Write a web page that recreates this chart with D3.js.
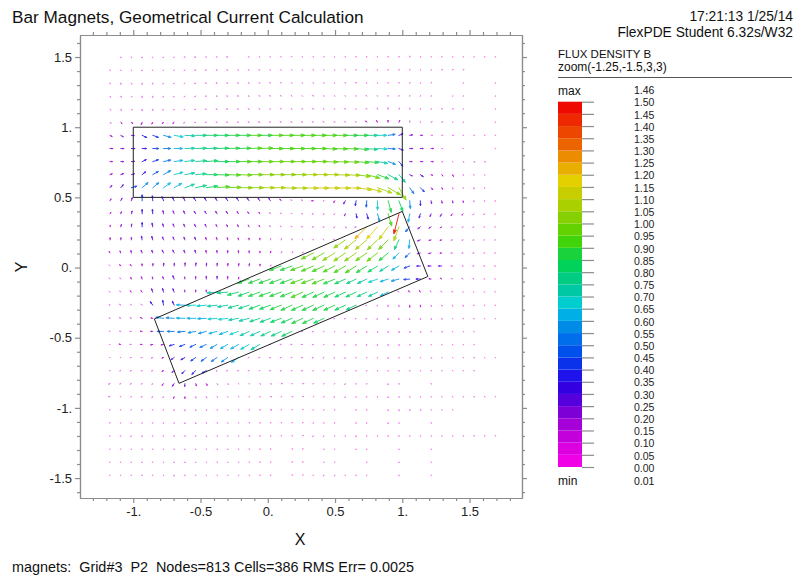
<!DOCTYPE html>
<html>
<head>
<meta charset="utf-8">
<script src="https://cdn.jsdelivr.net/npm/d3@7"></script>
<style>
body { margin: 0; background: #fff; overflow: hidden; }
svg { display: block; font-family: "Liberation Sans", Arial, sans-serif; }
</style>
</head>
<body>
<div id="chart"></div>
<script>
// x and y of the arrow grid, in plot units
var gridX = [-1.173,-1.093,-1.014,-.934,-.855,-.775,-.696,-.616,-.536,-.457,-.377,-.298,-.218,-.139,-.059,.02,.1,.18,.259,.339,.418,.498,.577,.657,.736,.816,.895,.975,1.055,1.134,1.214,1.293,1.373,1.452,1.532,1.611,1.691];
var gridY = [1.5,1.407,1.314,1.221,1.128,1.035,.942,.848,.755,.662,.569,.476,.383,.29,.197,.104,.011,-.082,-.175,-.268,-.362,-.455,-.548,-.641,-.734,-.827,-.92,-1.013,-1.106,-1.199,-1.293,-1.386,-1.479];

// |B|, in hundredths. One row per gridY, 0 = no arrow drawn
var fluxMag = [
[0,6,6,7,6,6,6,6,7,4,4,7,0,4,4,4,4,7,4,4,4,4,4,4,4,4,4,4,7,4,4,4,4,4,4,4,4],
[4,4,4,6,4,4,4,6,6,6,6,6,4,4,6,4,4,4,4,4,4,4,4,4,4,4,4,4,4,4,4,7,7,7,0,0,0],
[5,8,8,8,7,7,6,6,7,6,7,6,6,6,6,7,7,4,4,4,4,4,4,7,4,4,4,4,4,4,7,0,0,4,0,0,4],
[8,8,7,9,8,7,7,7,7,5,5,6,7,6,6,7,7,7,4,7,4,4,4,4,7,4,4,4,4,4,4,0,4,4,0,0,4],
[8,9,8,10,8,8,7,7,7,7,7,7,6,7,6,5,8,6,7,8,7,4,7,4,8,9,10,9,8,4,4,7,7,4,0,0,4],
[10,12,13,17,13,12,12,10,8,8,7,7,7,7,9,7,9,8,8,8,8,7,7,7,12,14,14,14,10,4,8,7,4,4,0,0,4],
[17,20,20,35,42,55,65,72,78,80,82,85,88,90,88,90,90,92,92,92,92,90,88,85,78,65,50,30,20,15,10,8,7,4,4,4,4],
[20,22,25,30,42,50,60,70,76,78,82,85,88,90,92,92,93,94,94,94,92,90,90,88,78,68,50,32,22,20,18,7,0,4,0,0,4],
[17,20,22,32,42,52,62,70,78,82,84,88,92,93,95,96,98,98,98,98,98,96,95,92,85,72,55,42,17,18,15,7,4,7,8,7,0],
[17,20,22,32,45,58,65,70,75,80,85,90,95,98,102,103,103,104,105,105,105,105,105,102,95,85,78,70,20,25,12,12,14,7,4,4,0],
[20,27,40,55,55,60,62,72,78,82,90,95,100,102,105,105,108,108,110,110,110,110,110,112,110,108,102,100,50,40,18,12,10,4,8,4,0],
[15,20,22,42,35,30,28,28,27,27,26,25,25,25,22,20,15,10,10,12,5,14,25,35,45,65,85,80,55,35,20,17,15,12,8,4,4],
[12,15,20,30,30,22,22,22,20,20,20,20,18,16,12,10,7,6,6,7,6,8,15,30,38,55,90,146,60,30,20,20,15,12,10,8,4],
[12,17,20,30,27,22,22,20,20,20,17,15,15,13,12,10,8,7,8,8,7,10,10,10,120,115,110,105,45,22,17,12,10,8,8,4,4],
[15,15,18,27,25,22,22,20,20,18,17,15,13,12,12,10,10,7,5,6,7,8,100,105,105,100,95,75,60,20,15,12,10,8,7,4,4],
[12,15,17,20,20,22,22,20,20,18,17,17,17,15,12,12,10,10,7,95,98,100,100,100,95,95,85,60,45,20,17,12,10,8,7,4,4],
[10,12,13,15,17,20,20,22,22,20,20,18,17,17,13,8,88,88,90,92,93,93,93,90,88,80,70,60,42,25,22,22,10,7,7,4,4],
[10,10,12,17,15,17,25,15,18,20,20,18,12,85,85,87,88,88,90,90,90,87,82,75,72,68,60,55,42,30,15,12,10,10,7,4,4],
[7,10,12,13,25,27,25,15,15,15,70,75,80,82,85,85,87,88,90,88,87,85,82,80,75,70,60,10,12,12,10,8,7,4,4,4,4],
[7,10,10,10,30,35,30,60,65,67,70,72,75,78,80,82,85,85,87,88,87,85,82,78,7,7,10,10,14,12,10,7,7,7,4,4,4],
[7,10,10,13,13,55,58,60,62,62,65,67,70,73,75,78,80,82,85,85,80,7,7,7,8,8,10,8,10,10,10,7,4,4,4,4,4],
[4,8,10,13,15,45,50,52,55,58,60,63,65,70,73,75,77,80,7,7,4,4,7,7,7,7,7,8,8,7,4,7,4,4,4,0,0],
[4,12,10,13,15,17,35,40,45,50,55,60,63,68,72,8,8,8,10,7,4,8,7,7,7,7,7,7,4,4,4,4,4,4,4,0,0],
[4,4,8,8,10,12,27,32,42,45,50,55,60,7,7,7,8,7,7,7,7,7,7,4,4,4,7,4,4,4,7,4,4,4,4,4,4],
[4,7,8,7,8,12,20,30,38,35,7,7,7,7,4,7,7,4,8,4,4,7,4,4,4,4,4,4,4,4,4,4,4,4,4,0,0],
[10,7,8,7,8,15,22,20,17,14,10,8,4,4,7,7,8,4,9,4,4,4,8,4,4,0,8,4,0,0,4,0,0,0,0,0,0],
[10,4,4,7,8,8,12,12,10,10,7,4,4,4,4,8,4,7,7,4,4,7,7,4,4,4,7,4,4,4,4,4,4,4,4,4,4],
[4,4,4,8,4,4,7,7,7,7,4,4,4,4,4,8,4,4,4,4,4,4,0,4,4,0,7,7,7,7,4,4,4,0,0,0,0],
[4,4,4,4,4,4,4,7,7,4,4,4,4,4,4,4,4,4,4,4,4,4,0,4,4,0,7,4,0,0,4,0,0,0,0,0,0],
[4,4,7,7,4,4,4,4,4,7,4,4,4,7,4,4,4,4,7,7,7,4,4,7,4,4,4,4,4,4,4,4,4,4,4,4,4],
[4,4,4,4,4,4,4,4,4,4,4,4,4,4,4,4,0,4,4,0,4,4,0,4,4,0,0,4,0,0,4,0,0,0,0,0,0],
[4,4,4,4,4,4,4,4,4,4,4,4,4,4,4,4,0,4,4,0,4,4,0,0,4,0,0,4,0,0,4,0,0,0,0,0,0],
[4,4,4,4,4,4,7,4,4,4,4,4,4,4,4,4,0,4,4,4,7,7,4,4,4,0,0,4,0,0,4,0,0,0,0,0,0]
];

// direction of B in degrees, counter-clockwise from +x, same layout as fluxMag
var fluxAngle = [
[0,300,280,250,240,230,220,200,190,180,170,170,0,160,150,145,140,135,130,125,120,120,115,110,100,100,90,80,70,60,60,50,45,40,40,35,30],
[300,300,290,250,240,230,220,210,190,180,170,170,160,160,150,145,140,135,130,125,120,115,110,110,105,100,90,80,75,65,60,50,45,40,0,0,0],
[280,280,300,270,265,235,225,215,200,180,170,165,160,155,150,145,140,135,130,125,120,115,110,110,105,100,90,80,75,65,60,0,0,40,0,0,35],
[300,300,310,270,270,240,225,215,200,180,170,165,160,155,150,145,140,130,130,125,120,115,115,120,125,115,90,70,80,65,55,0,45,45,0,0,30],
[310,300,320,270,270,235,225,210,195,180,175,165,160,155,150,145,135,130,130,130,125,120,125,130,135,100,95,65,85,70,60,60,45,40,0,0,35],
[315,315,320,250,240,225,220,215,190,180,175,170,165,160,160,155,150,150,150,145,140,135,130,130,130,120,95,65,85,70,30,30,30,30,0,0,35],
[330,330,355,335,340,345,350,357,0,0,0,0,0,0,0,0,0,0,0,0,0,0,0,0,0,0,8,20,10,0,0,0,0,0,0,0,0],
[0,0,0,0,0,0,0,2,2,2,2,2,2,2,2,0,0,0,0,0,358,358,358,355,355,357,357,340,0,0,0,0,0,0,0,0,0],
[0,0,5,25,18,12,8,7,5,5,0,0,0,0,0,0,0,0,0,0,358,358,357,355,355,350,340,310,0,0,0,340,340,320,330,330,0],
[20,20,15,40,30,30,15,10,5,0,358,358,358,0,0,0,0,0,0,0,0,358,357,352,345,340,332,310,335,325,335,310,300,300,300,300,0],
[50,50,15,40,40,35,30,20,12,8,5,2,0,0,0,0,358,358,358,358,358,358,358,352,345,340,330,300,305,315,310,300,290,290,280,280,0],
[60,65,75,90,95,110,115,115,120,120,120,120,120,125,125,125,130,135,140,180,200,240,240,260,265,270,285,290,275,272,280,280,280,280,270,270,270],
[60,70,75,90,95,100,110,115,120,120,120,120,120,125,125,125,130,150,170,190,210,230,245,280,285,285,286,256,260,255,250,240,230,230,230,230,230],
[75,75,85,90,100,105,110,115,115,115,115,115,115,115,115,125,135,150,170,190,210,225,320,200,225,228,234,250,230,220,210,210,210,210,210,210,210],
[85,85,90,100,105,110,110,110,110,105,105,100,100,95,90,85,80,80,100,110,130,150,215,218,220,224,225,245,265,200,195,195,195,195,195,195,195],
[120,110,100,110,110,115,115,110,105,100,95,90,90,85,85,80,70,60,60,207,210,212,215,215,215,218,220,225,225,195,195,190,190,190,190,190,190],
[135,130,125,95,85,85,85,85,85,85,85,85,80,80,80,70,200,200,200,203,205,207,210,212,212,212,212,210,200,180,180,180,175,175,175,175,175],
[130,125,110,110,100,110,110,100,90,90,90,90,80,200,200,200,200,200,200,200,202,203,204,205,205,200,198,195,185,180,170,150,150,150,150,150,150],
[140,130,130,130,110,105,110,100,90,90,185,185,195,200,200,200,200,202,205,205,205,205,205,205,205,205,205,140,130,120,120,130,130,130,130,130,130],
[150,145,140,140,125,100,115,178,182,185,187,190,195,198,200,200,202,205,205,205,205,205,205,205,210,240,260,270,270,275,290,300,280,280,280,280,280],
[155,150,150,155,170,172,175,178,180,182,185,187,190,195,198,200,200,203,205,205,205,210,210,210,210,240,250,265,270,280,290,300,300,300,300,300,300],
[160,170,180,175,180,180,180,185,190,195,195,200,200,205,205,205,205,205,180,200,220,240,240,250,260,270,270,280,290,300,310,320,320,320,320,0,0],
[180,170,180,180,190,190,195,200,205,205,210,210,210,210,210,180,180,180,180,190,200,210,230,240,250,260,270,280,290,300,310,320,320,330,330,0,0],
[180,180,190,190,200,200,215,210,215,215,215,215,215,190,190,190,190,190,190,200,210,220,230,240,250,260,270,280,290,300,310,320,330,330,340,340,340],
[190,200,200,200,200,210,220,225,225,210,220,200,190,190,190,190,200,200,190,200,210,220,230,240,250,260,270,280,290,300,310,320,330,340,340,0,0],
[200,200,210,210,220,230,235,265,290,300,300,310,320,320,320,330,0,0,0,210,220,230,230,240,250,0,270,280,0,0,300,0,0,0,0,0,0],
[180,190,200,210,220,230,250,270,280,290,300,310,320,330,330,0,0,0,10,20,210,220,230,240,250,260,270,280,290,300,310,320,330,340,350,0,0],
[200,210,220,230,235,240,250,270,280,290,300,310,320,330,340,350,0,10,20,220,230,240,0,250,260,0,270,280,290,300,310,320,330,0,0,0,0],
[210,220,230,240,240,250,260,270,280,290,300,310,320,330,340,350,0,10,20,230,240,250,0,260,260,0,270,280,0,0,300,0,0,0,0,0,0],
[220,230,230,240,250,255,260,270,280,290,300,310,320,330,340,350,0,10,20,230,240,250,250,260,260,270,270,280,290,300,310,320,330,340,350,0,0],
[220,230,240,240,250,255,260,270,280,290,300,310,320,330,340,350,0,10,20,0,240,250,0,260,260,0,0,280,0,0,300,0,0,0,0,0,0],
[230,240,240,250,250,260,260,270,280,290,300,310,320,330,340,350,0,10,20,0,240,250,0,0,260,0,0,280,0,0,300,0,0,0,0,0,0],
[230,240,250,250,250,260,260,270,280,290,300,310,320,330,340,350,0,10,20,230,240,250,250,260,260,0,0,280,0,0,300,0,0,0,0,0,0]
];

// magnet outlines
var magnetTop = [[-1,1],[1,1],[1,.5],[-1,.5]];
var magnetTilted = [[1,.4],[1.19,-.064],[-.66,-.825],[-.843,-.366]];

// axis ticks
var xMajor = [-1,-.5,0,.5,1,1.5];
var xLabels = ["-1.","-0.5","0.","0.5","1.","1.5"];
var xMinor = [-1.3,-1.2,-1.1,-.9,-.8,-.7,-.6,-.4,-.3,-.2,-.1,.1,.2,.3,.4,.6,.7,.8,.9,1.1,1.2,1.3,1.4,1.6,1.7,1.8];
var yMajor = [1.5,1,.5,0,-.5,-1,-1.5];
var yLabels = ["1.5","1.","0.5","0.","-0.5","-1.","-1.5"];
var yMinor = [1.6,1.4,1.3,1.2,1.1,.9,.8,.7,.6,.4,.3,.2,.1,-.1,-.2,-.3,-.4,-.6,-.7,-.8,-.9,-1.1,-1.2,-1.3,-1.4,-1.6];

// legend, from 0.00 up to 1.50
var legendTicks = [0,.05,.1,.15,.2,.25,.3,.35,.4,.45,.5,.55,.6,.65,.7,.75,.8,.85,.9,.95,1,1.05,1.1,1.15,1.2,1.25,1.3,1.35,1.4,1.45,1.5];
var legendColors = ["#f000e6","#dc00e1","#c300dc","#a500d7","#7d00d7","#5500dc","#3200e1","#1e14eb","#0a32eb","#0050eb","#006eeb","#008ce6","#00afe6","#00cdcd","#00c8a5","#00cd82","#00d25a","#19d23c","#41d40a","#64d200","#87d000","#aad000","#c8cd00","#e4d000","#e8af00","#ec8c00","#ec6400","#ec4600","#ee2800","#ee0a00"];

var svgWidth = 795;
var svgHeight = 578;

var svg = d3.select("#chart")
    .append("svg")
    .attr("width", svgWidth)
    .attr("height", svgHeight);

// Scales
var xScale = d3.scaleLinear().domain([-1.396, 1.89]).range([80, 522]);
var yScale = d3.scaleLinear().domain([1.657, -1.642]).range([35, 498]);
// arrow length in pixels per unit of B
var arrowLength = d3.scaleLinear().domain([0, 1]).range([0, 14]);
var legendY = d3.scaleLinear().domain([0, 1.5]).range([467, 101.7]);
var colorScale = d3.scaleThreshold()
    .domain(legendTicks.slice(1, -1))
    .range(legendColors);

// Frame and ticks
function styleAxis(g) {
    g.selectAll("path, line").attr("stroke", "#8c8c8c").attr("stroke-width", 1.2);
    g.selectAll("text").attr("fill", "#222").attr("font-size", "13px");
}
function labelFrom(ticks, labels) {
    return function(d) { return labels[ticks.indexOf(d)]; };
}

var sides = [
    { axis: d3.axisBottom, scale: xScale, at: [0, 498], major: xMajor, minor: xMinor, labels: xLabels },
    { axis: d3.axisTop, scale: xScale, at: [0, 35], major: xMajor, minor: xMinor },
    { axis: d3.axisLeft, scale: yScale, at: [80, 0], major: yMajor, minor: yMinor, labels: yLabels },
    { axis: d3.axisRight, scale: yScale, at: [522, 0], major: yMajor, minor: yMinor }
];
sides.forEach(function(side) {
    var majorAxis = side.axis(side.scale)
        .tickValues(side.major)
        .tickSizeOuter(0)
        .tickSizeInner(5)
        .tickPadding(side.axis === d3.axisBottom ? 4 : 3)
        .tickFormat(side.labels ? labelFrom(side.major, side.labels) : "");
    svg.append("g")
        .attr("transform", `translate(${side.at[0]}, ${side.at[1]})`)
        .call(majorAxis)
        .call(styleAxis);
    svg.append("g")
        .attr("transform", `translate(${side.at[0]}, ${side.at[1]})`)
        .call(side.axis(side.scale).tickValues(side.minor).tickSizeOuter(0).tickSizeInner(3).tickFormat(""))
        .call(styleAxis);
});

// Flatten the grid into one list of arrows
var arrows = [];
gridY.forEach(function(gy, j) {
    gridX.forEach(function(gx, i) {
        if (fluxMag[j][i] > 0) {
            arrows.push({ gx: gx, gy: gy, mag: fluxMag[j][i] / 100, angle: fluxAngle[j][i] * Math.PI / 180 });
        }
    });
});

function arrowPath(d) {
    var x0 = xScale(d.gx);
    var y0 = yScale(d.gy);
    var len = arrowLength(d.mag);
    var x1 = x0 + len * Math.cos(d.angle);
    var y1 = y0 - len * Math.sin(d.angle);
    var head = Math.min(len * 0.28, 3.6);
    var path = d3.path();
    path.moveTo(x0, y0);
    path.lineTo(x1, y1);
    path.moveTo(x1 + head * Math.cos(d.angle + 2.75), y1 - head * Math.sin(d.angle + 2.75));
    path.lineTo(x1, y1);
    path.lineTo(x1 + head * Math.cos(d.angle - 2.75), y1 - head * Math.sin(d.angle - 2.75));
    path.closePath();
    return path.toString();
}

svg.append("g")
    .selectAll("path")
    .data(arrows)
    .enter()
    .append("path")
    .attr("d", arrowPath)
    .attr("fill", d => colorScale(d.mag))
    .attr("stroke", d => colorScale(d.mag))
    .attr("stroke-width", 1)
    .attr("stroke-linecap", "round")
    .attr("opacity", d => d.mag < 0.12 ? 0.5 : 0.85);

// Magnets
var outline = d3.line().x(d => xScale(d[0])).y(d => yScale(d[1]));
svg.append("g")
    .selectAll("path")
    .data([magnetTop, magnetTilted])
    .enter()
    .append("path")
    .attr("d", d => outline(d) + "Z")
    .attr("fill", "none")
    .attr("stroke", "#222")
    .attr("stroke-width", 1);

// Legend
svg.append("g")
    .selectAll("rect")
    .data(legendColors)
    .enter()
    .append("rect")
    .attr("x", 558)
    .attr("y", (d, i) => legendY(legendTicks[i + 1]))
    .attr("width", 24)
    .attr("height", (d, i) => legendY(legendTicks[i]) - legendY(legendTicks[i + 1]))
    .attr("fill", d => d);

var legendAxis = svg.append("g")
    .attr("transform", "translate(582, 0)")
    .call(d3.axisRight(legendY)
        .tickValues(legendTicks)
        .tickSizeOuter(0)
        .tickSize(12)
        .tickPadding(40)
        .tickFormat(d3.format(".2f")));
legendAxis.select(".domain").remove();
legendAxis.selectAll("line").attr("stroke", "#8c8c8c").attr("stroke-width", 1.2);
legendAxis.selectAll("text").attr("fill", "#222").attr("font-size", "10.5px").attr("dy", "0.4em");

svg.append("line")
    .attr("x1", 558).attr("x2", 792)
    .attr("y1", 77.5).attr("y2", 77.5)
    .attr("stroke", "#555")
    .attr("stroke-width", 1);

// Text
function addText(x, y, str, size, anchor) {
    return svg.append("text")
        .attr("x", x)
        .attr("y", y)
        .attr("font-size", size + "px")
        .attr("text-anchor", anchor || "start")
        .attr("fill", "#111")
        .text(str);
}
addText(12, 23, "Bar Magnets, Geometrical Current Calculation", 17.2);
addText(793, 20.5, "17:21:13 1/25/14", 13.8, "end");
addText(793, 36.5, "FlexPDE Student 6.32s/W32", 13.8, "end");
addText(558, 58, "FLUX DENSITY B", 11.5);
addText(558, 71, "zoom(-1.25,-1.5,3,3)", 12);
addText(558, 95, "max", 12);
addText(634, 94, "1.46", 10.5);
addText(558, 485, "min", 12);
addText(634, 485, "0.01", 10.5);
addText(300, 545, "X", 16, "middle");
addText(0, 0, "Y", 16, "middle").attr("transform", "translate(27, 267) rotate(-90)");
addText(12, 572, "magnets:  Grid#3  P2  Nodes=813 Cells=386 RMS Err= 0.0025", 14.4).style("white-space", "pre");
</script>
</body>
</html>
